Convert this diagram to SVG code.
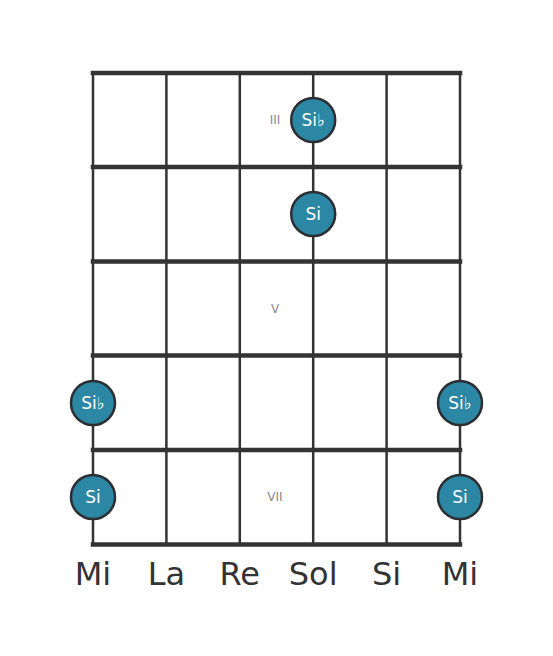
<svg xmlns="http://www.w3.org/2000/svg" width="553" height="656" viewBox="0 0 553 656">
<style>
.fret{stroke:#333;stroke-width:4.5;stroke-linecap:square}
.str{stroke:#333;stroke-width:2.5}
.dot{fill:#2b87a3;stroke:#2b2f33;stroke-width:2.5}
.nt{font-family:"DejaVu Sans",sans-serif;font-size:17px;fill:#fff;text-anchor:middle;dominant-baseline:central}
.pos{font-family:"DejaVu Sans",sans-serif;font-size:12px;fill:#888;text-anchor:middle;dominant-baseline:central}
.sn{font-family:"DejaVu Sans",sans-serif;font-size:32px;fill:#333;text-anchor:middle}
</style>
<rect width="553" height="656" fill="#fff"/>
<g id="grid">
<line class="str" x1="93" y1="73" x2="93" y2="545"/>
<line class="str" x1="166.4" y1="73" x2="166.4" y2="545"/>
<line class="str" x1="239.8" y1="73" x2="239.8" y2="545"/>
<line class="str" x1="313.2" y1="73" x2="313.2" y2="545"/>
<line class="str" x1="386.6" y1="73" x2="386.6" y2="545"/>
<line class="str" x1="460" y1="73" x2="460" y2="545"/>
<line class="fret" x1="93" y1="73" x2="460" y2="73"/>
<line class="fret" x1="93" y1="167" x2="460" y2="167"/>
<line class="fret" x1="93" y1="261.5" x2="460" y2="261.5"/>
<line class="fret" x1="93" y1="355.5" x2="460" y2="355.5"/>
<line class="fret" x1="93" y1="450" x2="460" y2="450"/>
<line class="fret" x1="93" y1="544.5" x2="460" y2="544.5"/>
</g>
<g id="positions">
<text class="pos" x="275" y="120">III</text>
<text class="pos" x="275" y="309">V</text>
<text class="pos" x="275" y="497">VII</text>
</g>
<g id="n1"><circle class="dot" cx="313.2" cy="120" r="22"/><text class="nt" x="313.2" y="120">Si♭</text></g>
<g id="n2"><circle class="dot" cx="313.2" cy="214" r="22"/><text class="nt" x="313.2" y="214">Si</text></g>
<g id="n3"><circle class="dot" cx="93" cy="403" r="22"/><text class="nt" x="93" y="403">Si♭</text></g>
<g id="n4"><circle class="dot" cx="460" cy="403" r="22"/><text class="nt" x="460" y="403">Si♭</text></g>
<g id="n5"><circle class="dot" cx="93" cy="497" r="22"/><text class="nt" x="93" y="497">Si</text></g>
<g id="n6"><circle class="dot" cx="460" cy="497" r="22"/><text class="nt" x="460" y="497">Si</text></g>
<g id="strings">
<text class="sn" x="93" y="585">Mi</text>
<text class="sn" x="166.4" y="585">La</text>
<text class="sn" x="239.8" y="585">Re</text>
<text class="sn" x="313.2" y="585">Sol</text>
<text class="sn" x="386.6" y="585">Si</text>
<text class="sn" x="460" y="585">Mi</text>
</g>
</svg>
